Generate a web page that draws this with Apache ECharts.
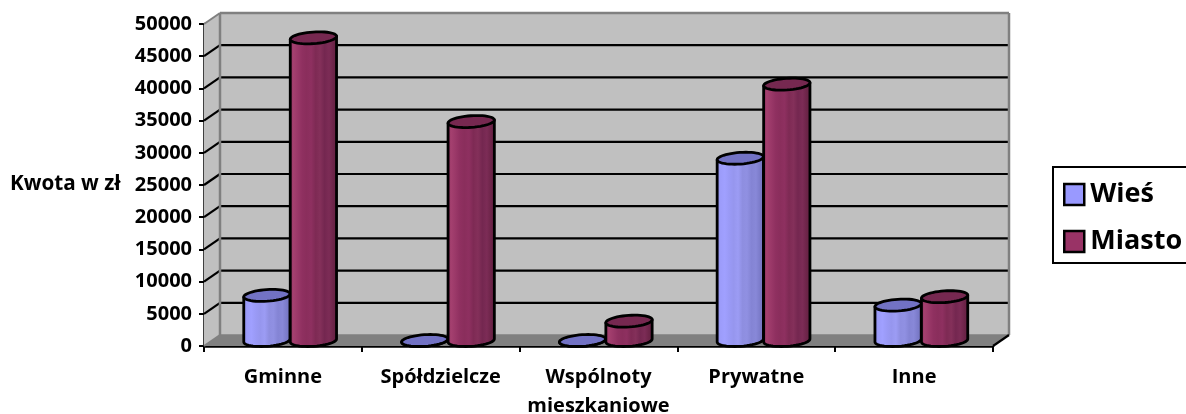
<!DOCTYPE html>
<html><head><meta charset="utf-8">
<style>html,body{margin:0;padding:0;background:#fff}#c{width:1186px;height:414px}</style>
<script src="https://cdn.jsdelivr.net/npm/echarts@6/dist/echarts.min.js"></script>
</head><body><div id="c"></div>
<script>
const categories = ['Gminne','Spółdzielcze','Wspólnoty\nmieszkaniowe','Prywatne','Inne'];
const wies = [7000,0,0,28300,5500];
const miasto = [47000,34000,3000,39800,6800];
const yTicks = [0,5000,10000,15000,20000,25000,30000,35000,40000,45000,50000];
const yTitle = 'Kwota w zł';
const font = '"Open Sans"';
const DX = 16, DY = 11;
function grad(stops){return {type:'linear',x:0,y:0,x2:1,y2:0,colorStops:stops.map((c,i)=>({offset:i/(stops.length-1),color:c}))};}
const styles = {
  'Wieś': {off:-16, top:'#7272c4', body:grad(['#8a8ade','#9c9cfa','#a0a0ff','#9a9af6','#9696ee','#9c9cf4','#8e8ee0','#9090e2','#8484d4','#8888d8','#7a7ac8','#7676c0'])},
  'Miasto': {off:30.5, top:'#762850', body:grad(['#8c2f5e','#a4406f','#9a3868','#8f3060','#8a2e5c','#8e3060','#7e2a54','#84305a','#742750','#7c2c56','#6c2448','#642244'])}
};
function backdrop(params, api){
  const g = params.coordSys, x0=g.x, x1=g.x+g.width, y0=g.y+g.height, y1=g.y;
  const ch = [];
  const poly=(pts,fill)=>({type:'polygon',shape:{points:pts},style:{fill,stroke:null}});
  const line=(a,b,c,w)=>({type:'line',shape:{x1:a[0],y1:a[1],x2:b[0],y2:b[1]},style:{stroke:c,lineWidth:w}});
  ch.push(poly([[x0+DX,y1-DY],[x1+DX,y1-DY],[x1+DX,y0-DY],[x0+DX,y0-DY]],'#c0c0c0'));
  ch.push(poly([[x0,y1],[x0+DX,y1-DY],[x0+DX,y0-DY],[x0,y0]],'#c0c0c0'));
  ch.push(poly([[x0,y0],[x0+DX,y0-DY],[x1+DX,y0-DY],[x1,y0]],'#808080'));
  yTicks.forEach((t,i)=>{
    const y = api.coord([0,t])[1];
    if(i>0 && i<yTicks.length-1){
      ch.push(line([x0+DX,y-DY],[x1+DX,y-DY],'#000',2.2));
      ch.push(line([x0,y],[x0+DX,y-DY],'#000',2.2));
    }
  });
  ch.push(line([x0,y1],[x0+DX,y1-DY],'#808080',2));
  ch.push(line([x0,y0],[x0+DX,y0-DY],'#808080',2));
  ch.push(line([x0+DX,y1-DY],[x1+DX,y1-DY],'#808080',2.5));
  ch.push(line([x0+DX,y1-DY],[x0+DX,y0-DY],'#808080',2.5));
  ch.push(line([x1+DX,y1-DY],[x1+DX,y0-DY],'#808080',2.5));
  ch.push(line([x0+DX,y0-DY],[x1+DX,y0-DY],'#808080',1.5));
  ch.push(line([x1,y0],[x1+DX,y0-DY],'#000',2.2));
  return {type:'group',children:ch};
}
function cylinder(params, api){
  const st = styles[params.seriesName];
  const p = api.coord([api.value(0),api.value(1)]);
  const base = api.coord([api.value(0),0]);
  const cx = p[0]+st.off;
  const a = 23.2, b = 5.8, tilt = -4*Math.PI/180;
  const yoff = -5.5;
  const topY = p[1]+yoff, botY = base[1]+yoff;
  const ell=(cy,t)=>[cx+a*Math.cos(t)*Math.cos(tilt)-b*Math.sin(t)*Math.sin(tilt), cy+a*Math.cos(t)*Math.sin(tilt)+b*Math.sin(t)*Math.cos(tilt)];
  const pts=[];
  pts.push(ell(topY,Math.PI));
  for(let i=0;i<=24;i++){pts.push(ell(botY,Math.PI-Math.PI*i/24));}
  pts.push(ell(topY,0));
  const rim=[];
  for(let i=0;i<48;i++){rim.push(ell(topY,2*Math.PI*i/48));}
  return {type:'group',children:[
    {type:'polygon',shape:{points:pts},style:{fill:st.body,stroke:'#000',lineWidth:2.8,lineJoin:'round'}},
    {type:'polygon',shape:{points:rim},style:{fill:st.top,stroke:'#000',lineWidth:2.8}}
  ]};
}
const chart = echarts.init(document.getElementById('c'),null,{renderer:'canvas'});
const mk=(name,vals,color,z)=>({name,type:'custom',renderItem:cylinder,clip:false,z,
  itemStyle:{color},encode:{x:0,y:1},
  data:vals.map((v,i)=>[i,v])});
chart.setOption({
  animation:false,
  backgroundColor:'#fff',
  title:{text:yTitle,left:10,top:174,padding:0,textStyle:{fontFamily:font,fontWeight:'bold',fontSize:20.7,color:'#000'}},
  grid:{left:204,right:193,top:24,bottom:68,containLabel:false,outerBoundsMode:'none'},
  legend:{orient:'vertical',left:1053,top:167,padding:[14,14,8,10],itemGap:20,itemWidth:20,itemHeight:21,
    borderColor:'#000',borderWidth:2,
    textStyle:{fontFamily:font,fontWeight:'bold',fontSize:27,color:'#000',padding:[0,0,0,1]},
    data:[{name:'Wieś',icon:'rect',itemStyle:{color:'#9999ff',borderColor:'#000',borderWidth:2.5}},
          {name:'Miasto',icon:'rect',itemStyle:{color:'#993366',borderColor:'#000',borderWidth:2.5}}]},
  xAxis:{type:'category',data:categories,boundaryGap:true,
    axisLine:{show:true,onZero:false,lineStyle:{color:'#000',width:2.5}},
    axisTick:{show:true,length:6,lineStyle:{color:'#000',width:2},interval:0},
    splitLine:{show:false},
    axisLabel:{interval:0,margin:17,color:'#000',fontFamily:font,fontWeight:'bold',fontSize:20,lineHeight:29,hideOverlap:false}},
  yAxis:{type:'value',min:0,max:50000,interval:5000,
    axisLine:{show:true,lineStyle:{color:'#000',width:2.5}},
    axisTick:{show:true,length:5,lineStyle:{color:'#000',width:2}},
    splitLine:{show:false},
    axisLabel:{margin:12,color:'#000',fontFamily:font,fontWeight:'bold',fontSize:20,padding:[2,0,0,0],formatter:v=>String(v)}},
  series:[
    {name:'backdrop',type:'custom',renderItem:backdrop,z:1,clip:false,silent:true,data:[[0,0]],encode:{x:0,y:1}},
    mk('Wieś',wies,'#9999ff',3),
    mk('Miasto',miasto,'#993366',4)
  ]
});
</script></body></html>
